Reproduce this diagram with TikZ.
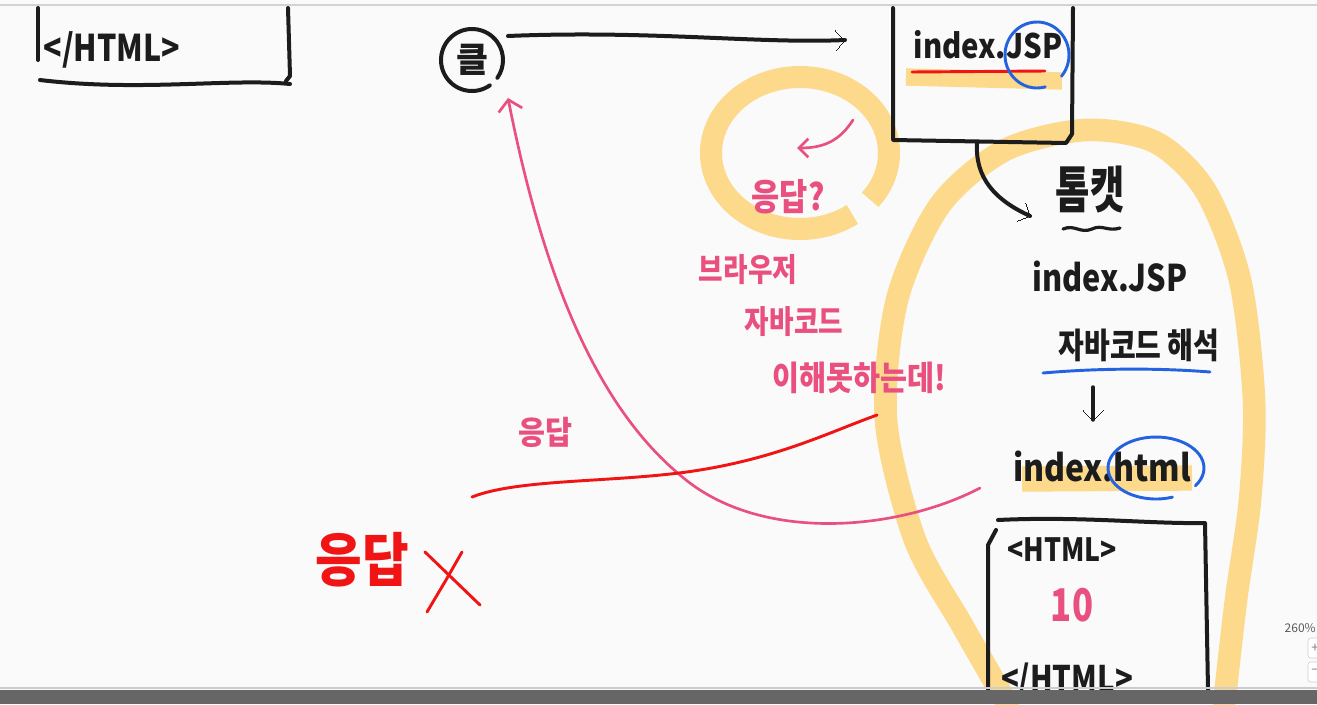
\documentclass[tikz,border=0pt]{standalone}
\usepackage{fontspec}
\setmainfont{Noto Sans CJK KR}
\usetikzlibrary{arrows.meta}
\definecolor{bgc}{HTML}{FAFAFA}
\definecolor{ink}{HTML}{1C1C1C}
\definecolor{pinkc}{HTML}{E9507F}
\definecolor{redc}{HTML}{F01414}
\definecolor{bluec}{HTML}{2462E0}
\definecolor{hilite}{HTML}{FDD98C}
\tikzset{
  pen/.style={draw=ink, line width=3pt},
  pinkpen/.style={draw=pinkc, line width=2pt},
  redpen/.style={draw=redc, line width=2.2pt},
  bluepen/.style={draw=bluec, line width=2.2pt},
  hl/.style={draw=hilite, line width=16pt, line cap=butt},
  barb/.style={-{Straight Barb[length=7pt,width=15pt,line width=0pt]}},
  txt/.style={inner sep=0pt, text=ink},
  ptxt/.style={inner sep=0pt, text=pinkc},
}
\newcommand{\fs}[1]{\fontsize{#1}{#1}\selectfont\bfseries}
\begin{document}
\begin{tikzpicture}[x=0.75pt,y=-0.75pt, line cap=round, line join=round]
\useasboundingbox (0,0) rectangle (1317,704);
\fill[bgc] (0,0) rectangle (1317,704);
\draw[gray!35, line width=1pt] (0,5) -- (1317,5);

% ---------- yellow highlights (behind) ----------
\draw[hl, line width=16.5pt] (800,153) ++(38:89 and 76) arc[start angle=38, end angle=-306, x radius=89, y radius=76];
\draw[hl, line width=17pt, line cap=round] plot[smooth] coordinates {(1008,705) (962,625) (915,540) (886,420) (897,300) (940,205) (1005,150) (1085,130) (1155,142) (1205,190) (1240,280) (1254,400) (1250,500) (1236,600) (1224,705)};
\draw[hl, line width=13pt] (906,77) -- (1062,81);
\draw[hl, line width=19pt] (1022,479) -- (1192,478);

% ---------- top-left box ----------
\draw[pen] (38,8) -- (38,60);
\draw[pen] (288,8) -- (290,76) -- (286,81);
\draw[pen] (40,80) .. controls (140,92) and (230,78) .. (290,84);
\node[txt, font=\fs{24}, xscale=0.95, yscale=1.15] (endhtml1) at (112,50) {</HTML>};

% ---------- click circle ----------
\node[txt, font=\fs{26}] (keul) at (472,60) {클};
\draw[pen] (keul.center) ++(55:31) arc[start angle=55, end angle=395, radius=31];
\coordinate (a1s) at (508,36);
\coordinate (a1e) at (845,40);
\draw[pen, barb] (a1s) .. controls (650,30) and (760,44) .. (a1e);

% ---------- index.jsp box ----------
\draw[redpen] (912,72) -- (1045,71);
\node[txt, font=\fs{22}, yscale=1.15] (jsp1) at (988,45) {index.JSP};
\draw[bluepen] (1037,55) ++(75:32 and 33) arc[start angle=75, end angle=400, x radius=32, y radius=33];
\draw[pen] (893,8) -- (893,140) -- (1066,143) -- (1072,134) -- (1073,8);
\coordinate (jspB) at (977,143);
\coordinate (tomA) at (1030,216);
\draw[pen, barb] (jspB) .. controls (975,178) and (995,200) .. (tomA);

% ---------- pink notes ----------
\coordinate (pa1) at (853,120);
\coordinate (pa2) at (797,148);
\draw[pinkpen, -{Straight Barb[length=7pt,width=14pt]}] (pa1) .. controls (840,140) and (825,148) .. (pa2);
\node[ptxt, font=\fs{23}, yscale=1.2] (q) at (788,197) {응답?};
\node[ptxt, font=\fs{20}, yscale=1.2] (br) at (748,270) {브라우저};
\node[ptxt, font=\fs{20}, yscale=1.2] (jc) at (794,322) {자바코드};
\node[ptxt, font=\fs{22}, yscale=1.15] (nu) at (859,378) {이해못하는데!};
\node[ptxt, font=\fs{22}, yscale=1.1] (resp) at (545,432) {응답};

% ---------- Tomcat column ----------
\node[txt, font=\fs{28}, yscale=1.35] (tom) at (1090,190) {톰캣};
\draw[pen, line width=2.4pt] (1063,229) .. controls (1075,224) and (1080,234) .. (1092,229) .. controls (1102,224) and (1108,232) .. (1120,228);
\node[txt, font=\fs{23}, yscale=1.2] (jsp2) at (1110,276) {index.JSP};
\node[txt, font=\fs{21}, yscale=1.25] (hs) at (1139,345) {자바코드 해석};
\draw[bluepen] (1043,373) .. controls (1100,368) and (1160,368) .. (1210,372);
\coordinate (d1) at (1093,387);
\coordinate (d2) at (1093,420);
\draw[pen, barb, line width=2.6pt] (d1) -- (d2);
\node[txt, font=\fs{24}, yscale=1.15] (html) at (1102,466) {index.html};
\draw[bluepen] (1156,468) ++(70:48 and 31) arc[start angle=70, end angle=395, x radius=48, y radius=31];

% ---------- result box ----------
\draw[pen] (988,690) -- (988,545) -- (996,530);
\draw[pen] (998,520) .. controls (1080,516) and (1150,524) .. (1205,523) -- (1208,690);
\node[txt, font=\fs{20}, yscale=1.2] (ohtml) at (1062,550) {<HTML>};
\node[ptxt, font=\fs{26}, yscale=1.3] (ten) at (1072,605) {10};
\node[txt, font=\fs{22}, yscale=1.2] (chtml) at (1067,680) {</HTML>};

% ---------- long pink response arrow ----------
\coordinate (ps) at (980,488);
\coordinate (pe) at (508,98);
\draw[pinkpen, -{Straight Barb[length=8pt,width=18pt]}] (ps) .. controls (900,530) and (760,545) .. (680,475) .. controls (590,400) and (540,260) .. (pe);

% ---------- red line and 응답 X ----------
\coordinate (r1) at (472,497);
\coordinate (r2) at (877,415);
\draw[redpen] (r1) .. controls (520,478) and (620,483) .. (700,470) .. controls (780,457) and (830,432) .. (r2);
\node[inner sep=0pt, text=redc, font=\fs{38}, yscale=1.15] (nores) at (362,560) {응답};
\draw[redpen] (425,552) -- (480,605);
\draw[redpen] (462,552) -- (446,580) -- (427,612);

% ---------- screen UI ----------
\draw[gray!40, line width=1pt] (0,688) -- (1317,688);
\fill[gray!80!black] (0,690) rectangle (1317,704);
\node[inner sep=0pt, anchor=east, text=gray!70!black, font=\fontsize{9}{9}\selectfont] (zoomlbl) at (1316,628) {260\%};
\draw[gray!40, fill=white, rounded corners=2pt] (1308,638) rectangle (1325,658);
\draw[gray!40, fill=white, rounded corners=2pt] (1308,662) rectangle (1325,682);
\node[inner sep=0pt, text=gray, font=\fontsize{10}{10}\selectfont] (plus) at (1315,648) {+};
\node[inner sep=0pt, text=gray, font=\fontsize{10}{10}\selectfont] (minus) at (1315,672) {−};
\end{tikzpicture}
\end{document}
